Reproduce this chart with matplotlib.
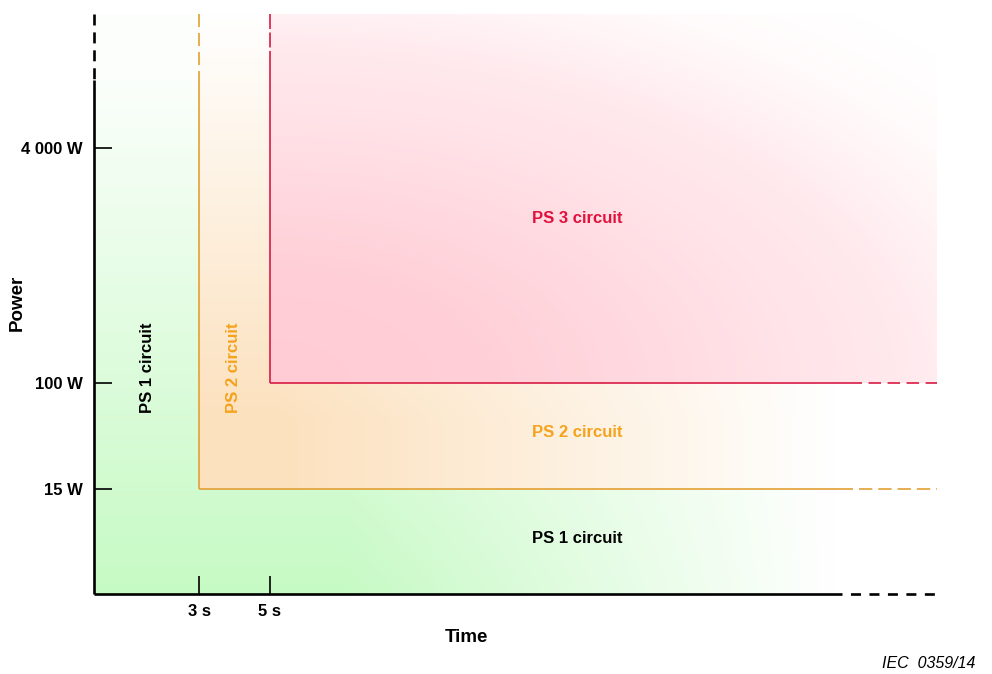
import numpy as np
import matplotlib
matplotlib.use("Agg")
import matplotlib.pyplot as plt

plt.rcParams['font.family'] = ['Liberation Sans', 'DejaVu Sans']
plt.rcParams['lines.scale_dashes'] = False

# schematic values
time_ticks = [3, 5]
time_labels = ["3 s", "5 s"]
power_levels = [15, 100, 4000]
power_labels = ["15 W", "100 W", "4 000 W"]
region_names = ["PS 1 circuit", "PS 2 circuit", "PS 3 circuit"]
t_max = 24.0

# power axis is not to scale: piecewise log mapping onto the axis height
p_lo, p_hi = 1.0, 1e5
anchor_log = np.log10([p_lo, 15, 100, 4000, p_hi])
anchor_pos = np.array([0.0, 0.181, 0.364, 0.769, 1.0])

def fwd(p):
    p = np.clip(np.asarray(p, dtype=float), 1e-9, None)
    return np.interp(np.log10(p), anchor_log, anchor_pos)

def inv(v):
    return 10 ** np.interp(v, anchor_pos, anchor_log)

c_black = "#000000"
c_orange = "#E3A033"
c_red = "#D81B45"
c_orange_txt = "#F5A21C"
c_red_txt = "#E2103C"

fig = plt.figure(figsize=(9.92, 6.74), dpi=100)
ax = fig.add_axes([94/992, 1-594/674, 843/992, 580/674])
ax.set_yscale('function', functions=(fwd, inv))
ax.set_xlim(0, t_max)
ax.set_ylim(p_lo, p_hi)
for s in ax.spines.values():
    s.set_visible(False)

# boundaries in axes fraction, through the axis scales
to_ax = ax.transData + ax.transAxes.inverted()
u3, v15 = to_ax.transform((time_ticks[0], power_levels[0]))
u5, v100 = to_ax.transform((time_ticks[1], power_levels[1]))

# gradient background
ny, nx = 580, 843
u = (np.arange(nx) + 0.5) / nx
v = (np.arange(ny) + 0.5) / ny
U, V = np.meshgrid(u, v)

def ramp(x, start, end):
    return np.clip((end - x) / (end - start), 0, 1)

img = np.ones((ny, nx, 3))
green = np.array([198, 250, 196]) / 255
orange = np.array([252, 225, 190]) / 255
red = np.array([255, 204, 213]) / 255

a_g = ramp(U, 0.30, 0.88) * np.clip(1 - 1.05 * V, 0.04, 1)
a_o = ramp(U, 0.22, 0.88) * ramp(V, 0.30, 1.0)
du = (U - u5) / (1 - u5)
dv = (V - v100) / (1 - v100)
r = np.sqrt((du / 1.05) ** 2 + dv ** 2)
a_r = np.interp(r, [0, 0.3, 0.73, 0.91, 1.0, 1.15, 1.3],
                [1, 0.95, 0.55, 0.42, 0.28, 0.08, 0.0])

def paint(mask, a, col):
    blend = 1 - a[..., None] * (1 - col)
    img[mask] = blend[mask]

paint(np.ones_like(U, dtype=bool), a_g, green)
paint((U >= u3) & (V >= v15), a_o, orange)
paint((U >= u5) & (V >= v100), a_r, red)

ax.imshow(img, extent=(0, 1, 0, 1), origin='lower', transform=ax.transAxes,
          aspect='auto', interpolation='bilinear', zorder=0)

# lines: solid part then dashed continuation
def hline(y, x0, brk, col, lw, on, off):
    ax.plot([x0, brk], [y, y], color=col, lw=lw, solid_capstyle='butt',
            clip_on=False, zorder=3)
    ax.plot([brk, t_max], [y, y], color=col, lw=lw, ls=(on, (on, off)),
            dash_capstyle='butt', clip_on=False, zorder=3)

def vline(x, y0, brk, col, lw, on, off):
    ax.plot([x, x], [y0, brk], color=col, lw=lw, solid_capstyle='butt',
            clip_on=False, zorder=3)
    ax.plot([x, x], [p_hi, brk], color=col, lw=lw, ls=(0, (on, off)),
            dash_capstyle='butt', clip_on=False, zorder=3)

hline(p_lo, 0, 21.30, c_black, 1.9, 7.2, 6.1)
vline(0, p_lo, inv(0.886), c_black, 1.9, 7.9, 5.0)
hline(power_levels[0], time_ticks[0], 21.60, c_orange, 1.2, 9.6, 4.3)
vline(time_ticks[0], power_levels[0], inv(0.90), c_orange, 1.2, 9.4, 4.3)
hline(power_levels[1], time_ticks[1], 21.87, c_red, 1.2, 9.0, 4.7)
vline(time_ticks[1], power_levels[1], inv(0.934), c_red, 1.2, 10.8, 2.5)

ax.set_xticks(time_ticks)
ax.set_xticklabels(time_labels)
ax.set_yticks(power_levels)
ax.set_yticklabels(power_labels)
ax.yaxis.set_minor_locator(matplotlib.ticker.NullLocator())
ax.tick_params(direction='in', length=13, width=1.2, color='black',
               labelsize=12)
ax.tick_params(axis='y', pad=8)
ax.tick_params(axis='x', pad=7)
for lab in ax.get_xticklabels() + ax.get_yticklabels():
    lab.set_fontweight('bold')

# region labels
ax.text(0.573, 0.647, region_names[2], transform=ax.transAxes, color=c_red_txt,
        fontsize=12, fontweight='bold', ha='center', va='center')
ax.text(0.573, 0.278, region_names[1], transform=ax.transAxes, color=c_orange_txt,
        fontsize=12, fontweight='bold', ha='center', va='center')
ax.text(0.573, 0.095, region_names[0], transform=ax.transAxes, color='black',
        fontsize=12, fontweight='bold', ha='center', va='center')
ax.text(0.064, 0.39, region_names[0], transform=ax.transAxes, color='black',
        fontsize=12, fontweight='bold', ha='center', va='center', rotation=90)
ax.text(0.165, 0.39, region_names[1], transform=ax.transAxes, color=c_orange_txt,
        fontsize=12, fontweight='bold', ha='center', va='center', rotation=90)

fig.text(17/992, 1-303/674, "Power", rotation=90, fontsize=13.5,
         fontweight='bold', ha='center', va='center')
fig.text(466/992, 1-637/674, "Time", fontsize=13.5, fontweight='bold',
         ha='center', va='center')
fig.text(975/992, 1-664/674, "IEC  0359/14", fontsize=11.5, style='italic',
         ha='right', va='center')

fig.savefig("out.png", dpi=100)
